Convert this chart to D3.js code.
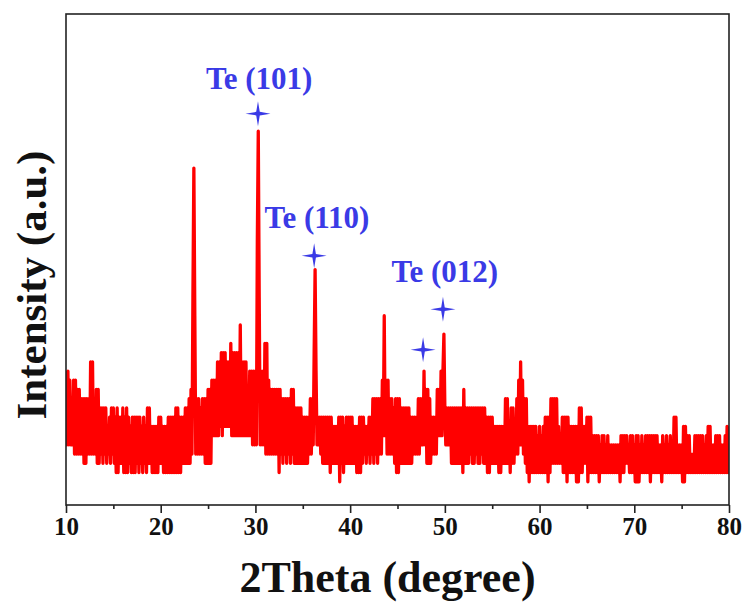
<!DOCTYPE html>
<html><head><meta charset="utf-8">
<script src="https://cdn.jsdelivr.net/npm/d3@7/dist/d3.min.js"></script>
<style>body{margin:0;background:#fff}svg{display:block}</style>
</head><body>
<svg id="c" width="747" height="604"></svg>
<script>
// 2Theta grid: start and step (degrees)
const thetaStart = 10, thetaStep = 0.1;
// Intensity (a.u.), one value per 0.1 degree
const counts10 = [14,6,14,6,13,6,11,6,13,5,13,5,12,5,12,5,11,5,11,4,11,4,11,5,11,5,15,5,15,5,10,5,12,4,12,4,10,5,10,4,10,5,10,4,8,5,9,4,10,5,10,4,9,3,10,3,9,4,9,4,10,3,9,3,10,3,9,4,8,3,9,3,9,3,9,4,9,3,9,4,8,3,9,4,8,3,10,4,10,4,8,3,8,3,8,3,8,3,9,4];
const counts20 = [9,4,8,3,8,3,8,3,9,3,9,3,9,3,9,3,10,3,10,3,9,3,9,4,9,4,10,4,10,4,11,4,12,5,22,36,20,5,11,5,11,5,10,5,11,5,11,4,11,4,12,4,12,4,13,7,13,7,13,7,15,7,15,8,16,7,16,8,16,8,15,8,15,8,17,7,16,7,16,7,16,7,16,7,19,7,15,7,15,7,15,7,12,7,14,7,14,6,14,6];
const counts30 = [14,6,28,40,22,6,14,6,14,6,17,5,17,5,13,5,12,5,12,5,12,5,12,5,12,3,12,5,11,4,11,5,11,4,11,5,11,4,12,5,12,4,10,4,10,4,10,4,10,4,9,4,9,4,9,4,9,5,11,5,11,6,16,25,14,6,9,6,9,5,9,4,9,4,9,4,9,4,9,3,9,4,8,4,8,4,8,4,9,2,9,4,9,3,8,4,9,4,9,4];
const counts40 = [9,4,9,4,8,4,8,3,8,3,9,3,9,4,9,5,8,4,8,5,9,4,9,5,11,4,11,5,11,4,11,5,11,5,13,7,20,7,13,5,13,5,11,5,11,5,10,4,11,3,11,3,11,4,10,4,10,4,10,4,10,4,10,4,9,4,9,5,9,5,9,5,11,5,11,6,11,6,14,6,12,4,12,4,11,4,9,5,9,5,9,5,12,7,12,7,14,7,14,18];
const counts50 = [10,6,10,6,10,6,10,4,10,4,10,4,10,4,10,4,10,4,10,3,12,4,10,4,10,4,10,5,10,4,10,4,10,5,10,4,10,4,10,5,10,4,10,4,9,3,9,3,9,4,9,4,8,4,8,4,8,3,8,3,8,4,8,4,11,4,11,4,8,3,10,4,10,4,8,5,11,5,13,6,15,6,13,5,11,4,11,3,8,2,8,3,8,3,8,3,8,3,7,3];
const counts60 = [8,3,7,3,8,3,9,3,9,2,9,3,11,4,11,4,11,4,11,4,8,4,7,4,9,3,9,3,9,2,9,3,8,3,8,3,8,3,8,2,8,2,10,3,10,3,8,4,8,4,9,2,9,3,9,3,7,3,7,3,7,3,7,2,6,3,7,3,7,3,6,3,7,3,6,3,6,3,6,3,6,3,6,3,6,2,7,3,7,3,7,4,7,4,6,3,7,3,7,3];
const counts70 = [6,2,7,2,7,2,6,3,7,3,6,3,7,3,7,3,7,2,7,3,7,3,7,3,7,3,6,3,6,2,7,3,6,3,7,3,6,3,7,3,6,3,9,3,9,3,6,3,6,3,6,2,8,2,8,3,7,3,7,3,5,3,5,3,7,3,7,3,7,3,7,3,7,3,6,3,7,3,8,3,8,3,6,3,6,3,7,3,7,3,7,3,6,3,6,3,7,3,8,3,8];

const xTicks = [10,20,30,40,50,60,70,80];
const xMinor = [15,25,35,45,55,65,75];
const peakLabels = ["Te (101)", "Te (110)", "Te (012)"];
const labelTheta = [30.4, 36.5, 50.0];
const labelLevel = [44.6, 29.5, 23.7];
const starTheta = [30.27, 36.2, 47.7, 49.8];
const starLevel = [41.9, 26.5, 16.3, 20.7];

const intensity = [].concat(counts10, counts20, counts30, counts40, counts50, counts60, counts70);
const data = intensity.map((v, i) => ({t: thetaStart + i * thetaStep, v}));

const L = 66, R = 729, T = 14, B = 505;
const x = d3.scaleLinear().domain([10, 80]).range([L, R]);
const y = d3.scaleLinear().domain([-0.52, 52.7]).range([B, T]);

const svg = d3.select("#c");
const font = "'Liberation Serif','Times New Roman',serif";
const blue = "#3a3ae6";

svg.append("defs").append("clipPath").attr("id", "clip")
  .append("rect").attr("x", L).attr("y", T).attr("width", R - L).attr("height", B - T);

svg.append("path").datum(data)
  .attr("clip-path", "url(#clip)")
  .attr("fill", "none").attr("stroke", "#ff0000").attr("stroke-width", 3.3)
  .attr("stroke-linejoin", "round")
  .attr("d", d3.line().x(d => x(d.t)).y(d => y(d.v)));

// frame
svg.append("rect").attr("x", L).attr("y", T).attr("width", R - L).attr("height", B - T)
  .attr("fill", "none").attr("stroke", "#222").attr("stroke-width", 1.6);

// bottom axis
const ax = svg.append("g").attr("transform", `translate(0,${B})`)
  .call(d3.axisBottom(x).tickValues(xTicks).tickSize(8).tickPadding(4).tickFormat(d3.format("d")));
ax.select(".domain").remove();
ax.selectAll(".tick line").attr("stroke", "#222").attr("stroke-width", 1.6);
ax.selectAll(".tick text").attr("font-family", font).attr("font-weight", "bold")
  .attr("font-size", 25).attr("fill", "#111");
const axm = svg.append("g").attr("transform", `translate(0,${B})`)
  .call(d3.axisBottom(x).tickValues(xMinor).tickSize(4).tickFormat(""));
axm.select(".domain").remove();
axm.selectAll(".tick line").attr("stroke", "#222").attr("stroke-width", 1.6);

// axis titles
svg.append("text").attr("x", (L + R) / 2 - 10).attr("y", 592)
  .attr("text-anchor", "middle").attr("font-family", font).attr("font-weight", "bold")
  .attr("font-size", 44).attr("fill", "#111").text("2Theta (degree)");
svg.append("text").attr("transform", "translate(46,285) rotate(-90)")
  .attr("text-anchor", "middle").attr("font-family", font).attr("font-weight", "bold")
  .attr("font-size", 43).attr("fill", "#111").text("Intensity (a.u.)");

// peak labels
svg.selectAll(".plab").data(peakLabels).enter().append("text")
  .attr("x", (d, i) => x(labelTheta[i])).attr("y", (d, i) => y(labelLevel[i]))
  .attr("text-anchor", "middle").attr("font-family", font).attr("font-weight", "bold")
  .attr("font-size", 31).attr("fill", blue).text(d => d);

// stars
const star4 = {
  draw(ctx, size) {
    const Ro = Math.sqrt(size), ri = Ro * 0.2;
    for (let k = 0; k < 8; k++) {
      const a = k * Math.PI / 4 - Math.PI / 2, rad = k % 2 ? ri : Ro;
      const px = rad * Math.cos(a), py = rad * Math.sin(a);
      if (k === 0) ctx.moveTo(px, py); else ctx.lineTo(px, py);
    }
    ctx.closePath();
  }
};
svg.selectAll(".star").data(starTheta).enter().append("path")
  .attr("transform", (d, i) => `translate(${x(d)},${y(starLevel[i])})`)
  .attr("d", d3.symbol().type(star4).size(12.5 * 12.5)())
  .attr("fill", blue);
</script>
</body></html>
